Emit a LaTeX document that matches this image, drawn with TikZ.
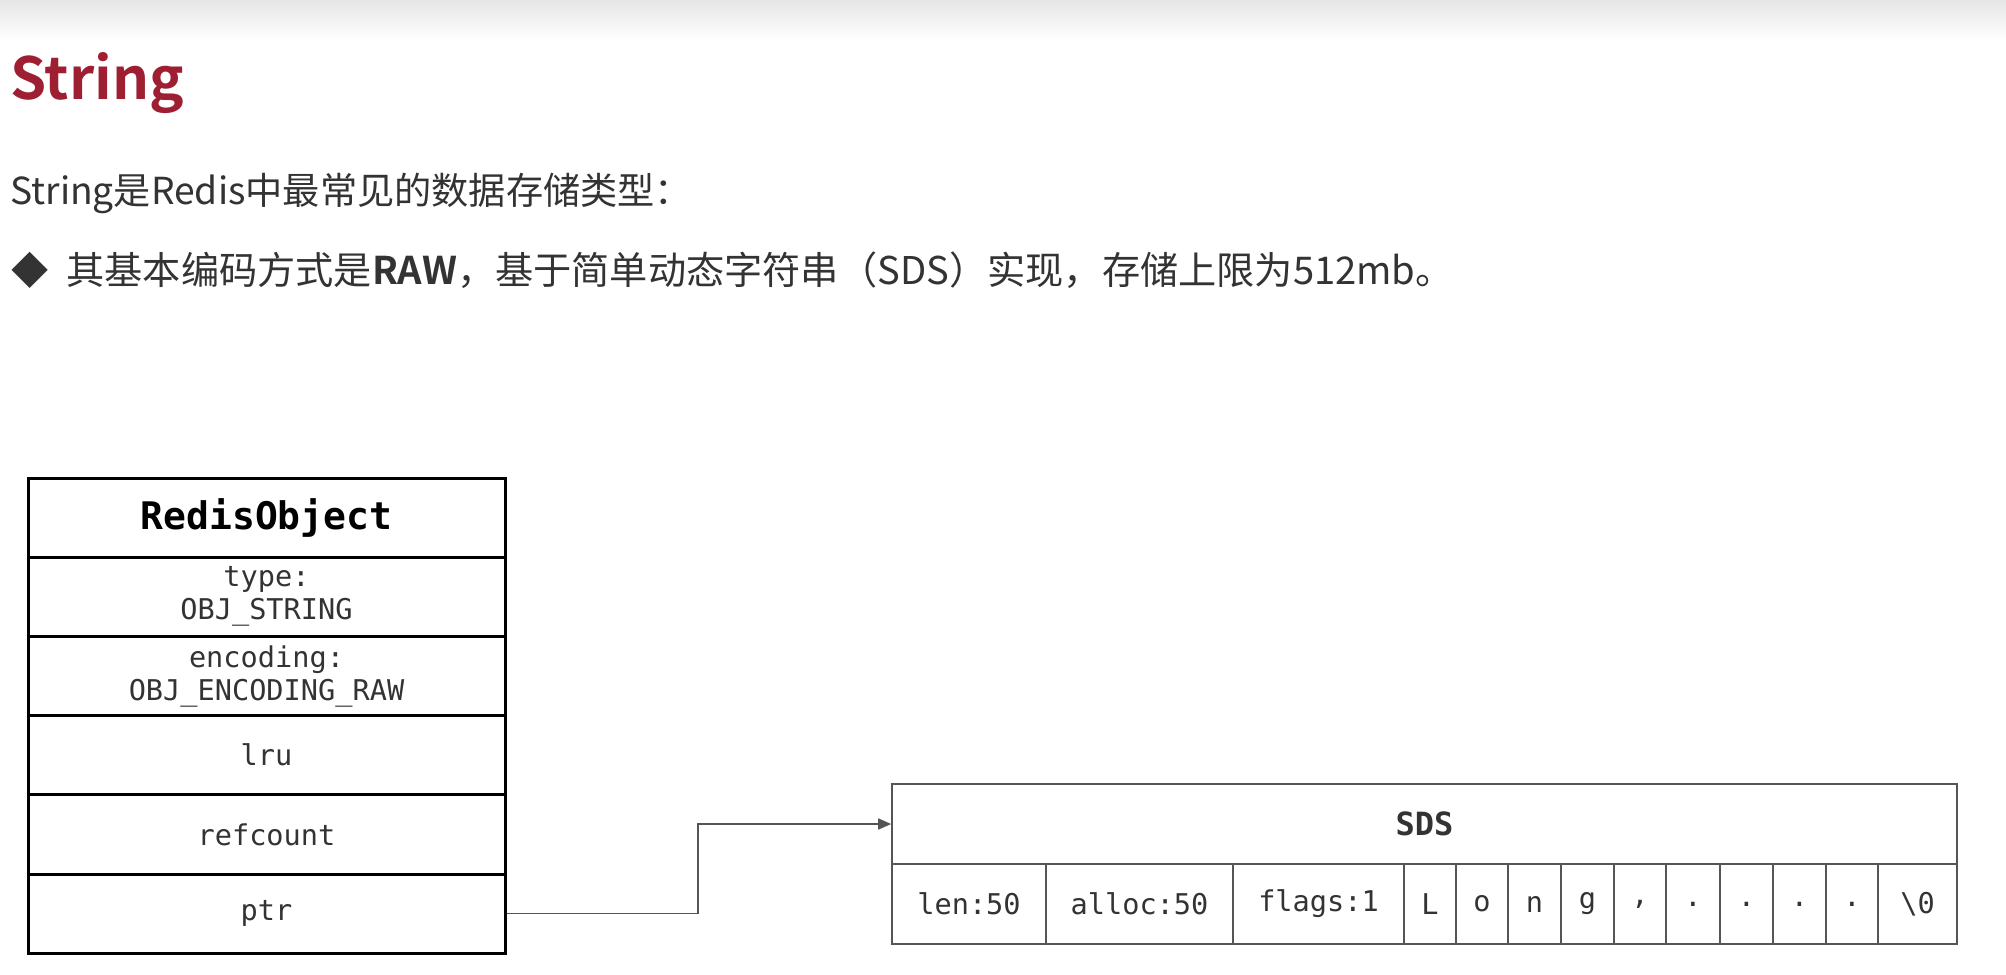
\documentclass[tikz,border=0pt]{standalone}
\usepackage{fontspec}
\setmonofont{DejaVu Sans Mono}
\newfontfamily\cjk{Noto Sans CJK SC}[BoldFont={Noto Sans CJK SC Bold}]
\usetikzlibrary{arrows.meta,calc}
\definecolor{titlered}{HTML}{9E1F32}
\definecolor{txt}{HTML}{333333}
\definecolor{sdsline}{HTML}{555555}
\tikzset{
  robj/.style={draw=black, line width=1.5pt, minimum width=238.5pt, minimum height=39.6pt,
    inner sep=0pt, align=center, text=txt, font=\ttfamily\fontsize{14.3}{16.5}\selectfont},
  robjhead/.style={robj, text=black, font=\ttfamily\bfseries\fontsize{19}{22}\selectfont},
  sdscell/.style={draw=sdsline, line width=0.8pt, minimum height=40pt, inner sep=0pt,
    text=txt, font=\ttfamily\fontsize{14.3}{16.5}\selectfont},
  sdshead/.style={sdscell, minimum width=532.5pt, font=\ttfamily\bfseries\fontsize{16}{18}\selectfont},
  conn/.style={draw=sdsline, line width=0.8pt, -{Triangle[length=6.5pt,width=5.5pt]}},
  bodytext/.style={anchor=base west, inner sep=0pt, text=txt, font=\cjk\fontsize{18.6}{22}\selectfont},
}
\begin{document}
\begin{tikzpicture}[x=0.5pt,y=-0.5pt]
  \fill[white] (0,0) rectangle (2006,974);
  \useasboundingbox (0,0) rectangle (2006,974);
  \shade[top color=black!10, bottom color=white] (0,0) rectangle (2006,40);

  % heading and text
  \node[anchor=base west, inner sep=0pt, text=titlered, font=\cjk\bfseries\fontsize{29}{34}\selectfont] (title) at (10,100) {String};
  \node[bodytext] (line1) at (10,204) {String是Redis中最常见的数据存储类型：};
  \node[bodytext] (bullet) at (11,284) {◆};
  \node[bodytext, font=\cjk\fontsize{19.1}{22}\selectfont] (line2) at (66,284) {其基本编码方式是\textbf{RAW}，基于简单动态字符串（SDS）实现，存储上限为512mb。};

  % RedisObject
  \node[robjhead] (rhead) at (266.5,517.6) {RedisObject};
  \node[robj] (rtype) at (266.5,596.8) {type:\\OBJ\_STRING};
  \node[robj] (renc) at (266.5,676.0) {encoding:\\OBJ\_ENCODING\_RAW};
  \node[robj] (rlru) at (266.5,755.2) {lru};
  \node[robj] (rref) at (266.5,834.4) {refcount};
  \node[robj] (ptr) at (266.5,913.6) {ptr};

  % SDS
  \node[sdshead] (sdshead) at (1424.5,824) {SDS};
  \foreach \l/\r/\t [count=\i] in {892/1046/len:50, 1046/1233/alloc:50, 1233/1404/flags:1,
      1404/1456/L, 1456/1508/o, 1508/1561/n, 1561/1614/g, 1614/1666/{,},
      1666/1720/., 1720/1773/., 1773/1826/., 1826/1878/., 1878/1957/\textbackslash0}
    \node[sdscell, minimum width={(\r-\l)*0.5pt}] (s\i) at ({(\l+\r)/2},904) {\t};

  % connector
  \coordinate (bend) at (698,825);
  \draw[conn] (ptr.east) -| (bend |- sdshead.west) -- (sdshead.west);
\end{tikzpicture}
\end{document}
